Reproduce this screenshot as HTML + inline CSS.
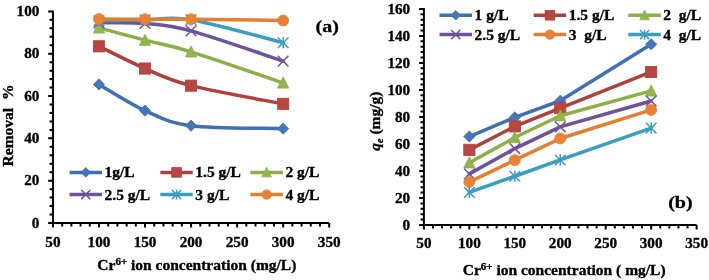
<!DOCTYPE html>
<html><head><meta charset="utf-8"><style>
html,body{margin:0;padding:0;background:#fff;}
body{width:709px;height:280px;overflow:hidden;}
svg{display:block;}
text{font-family:"Liberation Serif",serif;font-weight:bold;fill:#000;stroke:#000;stroke-width:0.35px;}
#wrap{width:709px;height:280px;}
svg{will-change:transform;}
</style></head><body><div id="wrap">
<svg width="709" height="280" viewBox="0 0 709 280">
<rect width="709" height="280" fill="#fff"/>
<path d="M52.95 10.50V223.00H329.20" fill="none" stroke="#000" stroke-width="2.0" stroke-linejoin="miter"/>
<path d="M48.15 223.00H52.95M49.55 214.54H52.95M49.55 206.07H52.95M49.55 197.61H52.95M49.55 189.14H52.95M48.15 180.68H52.95M49.55 172.22H52.95M49.55 163.75H52.95M49.55 155.29H52.95M49.55 146.82H52.95M48.15 138.36H52.95M49.55 129.90H52.95M49.55 121.43H52.95M49.55 112.97H52.95M49.55 104.50H52.95M48.15 96.04H52.95M49.55 87.58H52.95M49.55 79.11H52.95M49.55 70.65H52.95M49.55 62.18H52.95M48.15 53.72H52.95M49.55 45.26H52.95M49.55 36.79H52.95M49.55 28.33H52.95M49.55 19.86H52.95M48.15 11.40H52.95M52.95 223.00V227.50M62.16 223.00V226.40M71.37 223.00V226.40M80.58 223.00V226.40M89.78 223.00V226.40M98.99 223.00V227.50M108.20 223.00V226.40M117.41 223.00V226.40M126.62 223.00V226.40M135.82 223.00V226.40M145.03 223.00V227.50M154.24 223.00V226.40M163.45 223.00V226.40M172.66 223.00V226.40M181.87 223.00V226.40M191.07 223.00V227.50M200.28 223.00V226.40M209.49 223.00V226.40M218.70 223.00V226.40M227.91 223.00V226.40M237.12 223.00V227.50M246.32 223.00V226.40M255.53 223.00V226.40M264.74 223.00V226.40M273.95 223.00V226.40M283.16 223.00V227.50M292.37 223.00V226.40M301.57 223.00V226.40M310.78 223.00V226.40M319.99 223.00V226.40M329.20 223.00V227.50" stroke="#000" stroke-width="2.0" fill="none"/>
<text x="39.40" y="227.50" text-anchor="end" font-size="15.2" >0</text>
<text x="39.40" y="185.18" text-anchor="end" font-size="15.2" >20</text>
<text x="39.40" y="142.86" text-anchor="end" font-size="15.2" >40</text>
<text x="39.40" y="100.54" text-anchor="end" font-size="15.2" >60</text>
<text x="39.40" y="58.22" text-anchor="end" font-size="15.2" >80</text>
<text x="39.40" y="15.90" text-anchor="end" font-size="15.2" >100</text>
<text x="52.95" y="247.00" text-anchor="middle" font-size="15.2" >50</text>
<text x="98.99" y="247.00" text-anchor="middle" font-size="15.2" >100</text>
<text x="145.03" y="247.00" text-anchor="middle" font-size="15.2" >150</text>
<text x="191.07" y="247.00" text-anchor="middle" font-size="15.2" >200</text>
<text x="237.12" y="247.00" text-anchor="middle" font-size="15.2" >250</text>
<text x="283.16" y="247.00" text-anchor="middle" font-size="15.2" >300</text>
<text x="329.20" y="247.00" text-anchor="middle" font-size="15.2" >350</text>
<path d="M98.99 84.40C106.67 88.78 129.69 103.76 145.03 110.64C160.38 117.52 168.05 122.67 191.07 125.66C214.10 128.66 267.81 128.13 283.16 128.63" fill="none" stroke="#3F70B3" stroke-width="3.5" stroke-linecap="round"/>
<path d="M98.99 78.80L104.59 84.40L98.99 90.00L93.39 84.40Z" fill="#4675B8" stroke="#3F70B3" stroke-width="0.8"/>
<path d="M145.03 105.04L150.63 110.64L145.03 116.24L139.43 110.64Z" fill="#4675B8" stroke="#3F70B3" stroke-width="0.8"/>
<path d="M191.07 120.06L196.67 125.66L191.07 131.26L185.47 125.66Z" fill="#4675B8" stroke="#3F70B3" stroke-width="0.8"/>
<path d="M283.16 123.03L288.76 128.63L283.16 134.23L277.56 128.63Z" fill="#4675B8" stroke="#3F70B3" stroke-width="0.8"/>
<path d="M98.99 46.31C106.67 50.02 129.69 61.97 145.03 68.53C160.38 75.09 168.05 79.78 191.07 85.67C214.10 91.56 267.81 100.84 283.16 103.87" fill="none" stroke="#B0403D" stroke-width="3.5" stroke-linecap="round"/>
<rect x="93.39" y="40.71" width="11.20" height="11.20" fill="#B84744" stroke="#B0403D" stroke-width="0.8"/>
<rect x="139.43" y="62.93" width="11.20" height="11.20" fill="#B84744" stroke="#B0403D" stroke-width="0.8"/>
<rect x="185.47" y="80.07" width="11.20" height="11.20" fill="#B84744" stroke="#B0403D" stroke-width="0.8"/>
<rect x="277.56" y="98.27" width="11.20" height="11.20" fill="#B84744" stroke="#B0403D" stroke-width="0.8"/>
<path d="M98.99 27.90C106.67 29.95 129.69 36.19 145.03 40.18C160.38 44.16 168.05 44.69 191.07 51.82C214.10 58.94 267.81 77.74 283.16 82.92" fill="none" stroke="#8CAF48" stroke-width="3.5" stroke-linecap="round"/>
<path d="M98.99 21.90L104.59 33.10L93.39 33.10Z" fill="#92B54F" stroke="#8CAF48" stroke-width="0.8"/>
<path d="M145.03 34.18L150.63 45.38L139.43 45.38Z" fill="#92B54F" stroke="#8CAF48" stroke-width="0.8"/>
<path d="M191.07 45.82L196.67 57.02L185.47 57.02Z" fill="#92B54F" stroke="#8CAF48" stroke-width="0.8"/>
<path d="M283.16 76.92L288.76 88.12L277.56 88.12Z" fill="#92B54F" stroke="#8CAF48" stroke-width="0.8"/>
<path d="M98.99 22.83C106.67 22.93 129.69 22.12 145.03 23.46C160.38 24.80 168.05 24.59 191.07 30.87C214.10 37.14 267.81 56.08 283.16 61.13" fill="none" stroke="#6F529A" stroke-width="3.5" stroke-linecap="round"/>
<path d="M93.69 17.53L104.29 28.13M104.29 17.53L93.69 28.13" stroke="#6F529A" stroke-width="1.5" fill="none"/>
<path d="M139.73 18.16L150.33 28.76M150.33 18.16L139.73 28.76" stroke="#6F529A" stroke-width="1.5" fill="none"/>
<path d="M185.77 25.57L196.38 36.17M196.38 25.57L185.77 36.17" stroke="#6F529A" stroke-width="1.5" fill="none"/>
<path d="M277.86 55.83L288.46 66.43M288.46 55.83L277.86 66.43" stroke="#6F529A" stroke-width="1.5" fill="none"/>
<path d="M98.99 20.71C106.67 20.57 129.69 20.04 145.03 19.86C160.38 19.69 168.05 15.84 191.07 19.65C214.10 23.46 267.81 38.87 283.16 42.72" fill="none" stroke="#3A9EC0" stroke-width="3.5" stroke-linecap="round"/>
<path d="M93.69 15.41L104.29 26.01M104.29 15.41L93.69 26.01M98.99 15.11L98.99 26.31" stroke="#3A9EC0" stroke-width="1.5" fill="none"/>
<path d="M139.73 14.56L150.33 25.16M150.33 14.56L139.73 25.16M145.03 14.26L145.03 25.46" stroke="#3A9EC0" stroke-width="1.5" fill="none"/>
<path d="M185.77 14.35L196.38 24.95M196.38 14.35L185.77 24.95M191.07 14.05L191.07 25.25" stroke="#3A9EC0" stroke-width="1.5" fill="none"/>
<path d="M277.86 37.42L288.46 48.02M288.46 37.42L277.86 48.02M283.16 37.12L283.16 48.32" stroke="#3A9EC0" stroke-width="1.5" fill="none"/>
<path d="M98.99 19.02C106.67 19.05 129.69 19.19 145.03 19.23C160.38 19.26 168.05 19.02 191.07 19.23C214.10 19.44 267.81 20.29 283.16 20.50" fill="none" stroke="#E67E2E" stroke-width="3.5" stroke-linecap="round"/>
<circle cx="98.99" cy="19.02" r="5.50" fill="#E88234" stroke="#E67E2E" stroke-width="0.8"/>
<circle cx="145.03" cy="19.23" r="5.50" fill="#E88234" stroke="#E67E2E" stroke-width="0.8"/>
<circle cx="191.07" cy="19.23" r="5.50" fill="#E88234" stroke="#E67E2E" stroke-width="0.8"/>
<circle cx="283.16" cy="20.50" r="5.50" fill="#E88234" stroke="#E67E2E" stroke-width="0.8"/>
<path d="M69.50 172.40H102.00" stroke="#3F70B3" stroke-width="3.5"/>
<path d="M85.75 167.60L90.55 172.40L85.75 177.20L80.95 172.40Z" fill="#4675B8" stroke="#3F70B3" stroke-width="0.8"/>
<text x="104.50" y="177.40" text-anchor="start" font-size="15.5" >1g/L</text>
<path d="M160.30 172.40H192.80" stroke="#B0403D" stroke-width="3.5"/>
<rect x="171.75" y="167.60" width="9.60" height="9.60" fill="#B84744" stroke="#B0403D" stroke-width="0.8"/>
<text x="195.30" y="177.40" text-anchor="start" font-size="15.5" >1.5 g/L</text>
<path d="M250.40 172.40H282.90" stroke="#8CAF48" stroke-width="3.5"/>
<path d="M266.65 167.26L271.45 176.86L261.85 176.86Z" fill="#92B54F" stroke="#8CAF48" stroke-width="0.8"/>
<text x="285.40" y="177.40" text-anchor="start" font-size="15.5" >2 g/L</text>
<path d="M69.50 194.60H102.00" stroke="#6F529A" stroke-width="3.5"/>
<path d="M81.21 190.06L90.29 199.14M90.29 190.06L81.21 199.14" stroke="#6F529A" stroke-width="1.5" fill="none"/>
<text x="104.50" y="199.60" text-anchor="start" font-size="15.5" >2.5 g/L</text>
<path d="M160.30 194.60H192.80" stroke="#3A9EC0" stroke-width="3.5"/>
<path d="M172.01 190.06L181.09 199.14M181.09 190.06L172.01 199.14M176.55 189.76L176.55 199.44" stroke="#3A9EC0" stroke-width="1.5" fill="none"/>
<text x="195.30" y="199.60" text-anchor="start" font-size="15.5" >3 g/L</text>
<path d="M250.40 194.60H282.90" stroke="#E67E2E" stroke-width="3.5"/>
<circle cx="266.65" cy="194.60" r="4.71" fill="#E88234" stroke="#E67E2E" stroke-width="0.8"/>
<text x="285.40" y="199.60" text-anchor="start" font-size="15.5" >4 g/L</text>
<text x="97.30" y="269.70" text-anchor="start" font-size="15.5" >Cr<tspan font-size="11" dy="-4.5">6+</tspan><tspan dy="4.5"> ion concentration (mg/L)</tspan></text>
<text transform="translate(12.9,166.4) rotate(-90)" font-size="15.5">Removal&#160; %</text>
<text transform="translate(315.5,32.0) scale(1,0.88)" font-size="20">(a)</text>
<path d="M423.90 8.00V225.00H696.60" fill="none" stroke="#000" stroke-width="2.0"/>
<path d="M419.10 225.00H423.90M420.50 219.60H423.90M420.50 214.19H423.90M420.50 208.79H423.90M420.50 203.39H423.90M419.10 197.99H423.90M420.50 192.59H423.90M420.50 187.18H423.90M420.50 181.78H423.90M420.50 176.38H423.90M419.10 170.97H423.90M420.50 165.57H423.90M420.50 160.17H423.90M420.50 154.77H423.90M420.50 149.37H423.90M419.10 143.96H423.90M420.50 138.56H423.90M420.50 133.16H423.90M420.50 127.76H423.90M420.50 122.35H423.90M419.10 116.95H423.90M420.50 111.55H423.90M420.50 106.15H423.90M420.50 100.74H423.90M420.50 95.34H423.90M419.10 89.94H423.90M420.50 84.54H423.90M420.50 79.13H423.90M420.50 73.73H423.90M420.50 68.33H423.90M419.10 62.93H423.90M420.50 57.52H423.90M420.50 52.12H423.90M420.50 46.72H423.90M420.50 41.31H423.90M419.10 35.91H423.90M420.50 30.51H423.90M420.50 25.11H423.90M420.50 19.71H423.90M420.50 14.30H423.90M419.10 8.90H423.90M423.90 225.00V229.50M432.99 225.00V228.40M442.08 225.00V228.40M451.17 225.00V228.40M460.26 225.00V228.40M469.35 225.00V229.50M478.44 225.00V228.40M487.53 225.00V228.40M496.62 225.00V228.40M505.71 225.00V228.40M514.80 225.00V229.50M523.89 225.00V228.40M532.98 225.00V228.40M542.07 225.00V228.40M551.16 225.00V228.40M560.25 225.00V229.50M569.34 225.00V228.40M578.43 225.00V228.40M587.52 225.00V228.40M596.61 225.00V228.40M605.70 225.00V229.50M614.79 225.00V228.40M623.88 225.00V228.40M632.97 225.00V228.40M642.06 225.00V228.40M651.15 225.00V229.50M660.24 225.00V228.40M669.33 225.00V228.40M678.42 225.00V228.40M687.51 225.00V228.40M696.60 225.00V229.50" stroke="#000" stroke-width="2.0" fill="none"/>
<text x="410.20" y="229.60" text-anchor="end" font-size="15.2" >0</text>
<text x="410.20" y="202.59" text-anchor="end" font-size="15.2" >20</text>
<text x="410.20" y="175.57" text-anchor="end" font-size="15.2" >40</text>
<text x="410.20" y="148.56" text-anchor="end" font-size="15.2" >60</text>
<text x="410.20" y="121.55" text-anchor="end" font-size="15.2" >80</text>
<text x="410.20" y="94.54" text-anchor="end" font-size="15.2" >100</text>
<text x="410.20" y="67.53" text-anchor="end" font-size="15.2" >120</text>
<text x="410.20" y="40.51" text-anchor="end" font-size="15.2" >140</text>
<text x="410.20" y="13.50" text-anchor="end" font-size="15.2" >160</text>
<text x="423.90" y="248.30" text-anchor="middle" font-size="15.2" >50</text>
<text x="469.35" y="248.30" text-anchor="middle" font-size="15.2" >100</text>
<text x="514.80" y="248.30" text-anchor="middle" font-size="15.2" >150</text>
<text x="560.25" y="248.30" text-anchor="middle" font-size="15.2" >200</text>
<text x="605.70" y="248.30" text-anchor="middle" font-size="15.2" >250</text>
<text x="651.15" y="248.30" text-anchor="middle" font-size="15.2" >300</text>
<text x="696.60" y="248.30" text-anchor="middle" font-size="15.2" >350</text>
<path d="M469.35 136.53L514.80 117.42L560.25 100.74L651.15 44.29" fill="none" stroke="#3F70B3" stroke-width="3.5" stroke-linecap="round" stroke-linejoin="round"/>
<path d="M469.35 130.93L474.95 136.53L469.35 142.13L463.75 136.53Z" fill="#4675B8" stroke="#3F70B3" stroke-width="0.8"/>
<path d="M514.80 111.82L520.40 117.42L514.80 123.02L509.20 117.42Z" fill="#4675B8" stroke="#3F70B3" stroke-width="0.8"/>
<path d="M560.25 95.14L565.85 100.74L560.25 106.34L554.65 100.74Z" fill="#4675B8" stroke="#3F70B3" stroke-width="0.8"/>
<path d="M651.15 38.69L656.75 44.29L651.15 49.89L645.55 44.29Z" fill="#4675B8" stroke="#3F70B3" stroke-width="0.8"/>
<path d="M469.35 149.82L514.80 126.40L560.25 108.13L651.15 71.97" fill="none" stroke="#B0403D" stroke-width="3.5" stroke-linecap="round" stroke-linejoin="round"/>
<rect x="463.75" y="144.22" width="11.20" height="11.20" fill="#B84744" stroke="#B0403D" stroke-width="0.8"/>
<rect x="509.20" y="120.80" width="11.20" height="11.20" fill="#B84744" stroke="#B0403D" stroke-width="0.8"/>
<rect x="554.65" y="102.53" width="11.20" height="11.20" fill="#B84744" stroke="#B0403D" stroke-width="0.8"/>
<rect x="645.55" y="66.37" width="11.20" height="11.20" fill="#B84744" stroke="#B0403D" stroke-width="0.8"/>
<path d="M469.35 162.74L514.80 137.48L560.25 115.73L651.15 90.88" fill="none" stroke="#8CAF48" stroke-width="3.5" stroke-linecap="round" stroke-linejoin="round"/>
<path d="M469.35 156.74L474.95 167.94L463.75 167.94Z" fill="#92B54F" stroke="#8CAF48" stroke-width="0.8"/>
<path d="M514.80 131.48L520.40 142.68L509.20 142.68Z" fill="#92B54F" stroke="#8CAF48" stroke-width="0.8"/>
<path d="M560.25 109.73L565.85 120.93L554.65 120.93Z" fill="#92B54F" stroke="#8CAF48" stroke-width="0.8"/>
<path d="M651.15 84.88L656.75 96.08L645.55 96.08Z" fill="#92B54F" stroke="#8CAF48" stroke-width="0.8"/>
<path d="M469.35 173.89L514.80 148.58L560.25 126.89L651.15 101.01" fill="none" stroke="#6F529A" stroke-width="3.5" stroke-linecap="round" stroke-linejoin="round"/>
<path d="M464.05 168.59L474.65 179.19M474.65 168.59L464.05 179.19" stroke="#6F529A" stroke-width="1.5" fill="none"/>
<path d="M509.50 143.28L520.10 153.88M520.10 143.28L509.50 153.88" stroke="#6F529A" stroke-width="1.5" fill="none"/>
<path d="M554.95 121.59L565.55 132.19M565.55 121.59L554.95 132.19" stroke="#6F529A" stroke-width="1.5" fill="none"/>
<path d="M645.85 95.71L656.45 106.31M656.45 95.71L645.85 106.31" stroke="#6F529A" stroke-width="1.5" fill="none"/>
<path d="M469.35 181.96L514.80 160.17L560.25 138.47L651.15 109.93" fill="none" stroke="#E67E2E" stroke-width="3.5" stroke-linecap="round" stroke-linejoin="round"/>
<circle cx="469.35" cy="181.96" r="5.50" fill="#E88234" stroke="#E67E2E" stroke-width="0.8"/>
<circle cx="514.80" cy="160.17" r="5.50" fill="#E88234" stroke="#E67E2E" stroke-width="0.8"/>
<circle cx="560.25" cy="138.47" r="5.50" fill="#E88234" stroke="#E67E2E" stroke-width="0.8"/>
<circle cx="651.15" cy="109.93" r="5.50" fill="#E88234" stroke="#E67E2E" stroke-width="0.8"/>
<path d="M469.35 192.45L514.80 176.23L560.25 159.97L651.15 128.06" fill="none" stroke="#3A9EC0" stroke-width="3.5" stroke-linecap="round" stroke-linejoin="round"/>
<path d="M464.05 187.15L474.65 197.75M474.65 187.15L464.05 197.75M469.35 186.85L469.35 198.05" stroke="#3A9EC0" stroke-width="1.5" fill="none"/>
<path d="M509.50 170.93L520.10 181.53M520.10 170.93L509.50 181.53M514.80 170.63L514.80 181.83" stroke="#3A9EC0" stroke-width="1.5" fill="none"/>
<path d="M554.95 154.67L565.55 165.27M565.55 154.67L554.95 165.27M560.25 154.37L560.25 165.57" stroke="#3A9EC0" stroke-width="1.5" fill="none"/>
<path d="M645.85 122.76L656.45 133.36M656.45 122.76L645.85 133.36M651.15 122.46L651.15 133.66" stroke="#3A9EC0" stroke-width="1.5" fill="none"/>
<path d="M439.50 15.30H472.00" stroke="#3F70B3" stroke-width="3.5"/>
<path d="M455.75 10.50L460.55 15.30L455.75 20.10L450.95 15.30Z" fill="#4675B8" stroke="#3F70B3" stroke-width="0.8"/>
<text x="474.50" y="20.30" text-anchor="start" font-size="15.5" >1 g/L</text>
<path d="M533.70 15.30H566.20" stroke="#B0403D" stroke-width="3.5"/>
<rect x="545.15" y="10.50" width="9.60" height="9.60" fill="#B84744" stroke="#B0403D" stroke-width="0.8"/>
<text x="568.70" y="20.30" text-anchor="start" font-size="15.5" >1.5 g/L</text>
<path d="M628.30 15.30H660.80" stroke="#8CAF48" stroke-width="3.5"/>
<path d="M644.55 10.16L649.35 19.76L639.75 19.76Z" fill="#92B54F" stroke="#8CAF48" stroke-width="0.8"/>
<text x="663.30" y="20.30" text-anchor="start" font-size="15.5" >2&#160; g/L</text>
<path d="M439.50 34.60H472.00" stroke="#6F529A" stroke-width="3.5"/>
<path d="M451.21 30.06L460.29 39.14M460.29 30.06L451.21 39.14" stroke="#6F529A" stroke-width="1.5" fill="none"/>
<text x="474.50" y="39.60" text-anchor="start" font-size="15.5" >2.5 g/L</text>
<path d="M533.70 34.60H566.20" stroke="#E67E2E" stroke-width="3.5"/>
<circle cx="549.95" cy="34.60" r="4.71" fill="#E88234" stroke="#E67E2E" stroke-width="0.8"/>
<text x="568.70" y="39.60" text-anchor="start" font-size="15.5" >3&#160; g/L</text>
<path d="M628.30 34.60H660.80" stroke="#3A9EC0" stroke-width="3.5"/>
<path d="M640.01 30.06L649.09 39.14M649.09 30.06L640.01 39.14M644.55 29.76L644.55 39.44" stroke="#3A9EC0" stroke-width="1.5" fill="none"/>
<text x="663.30" y="39.60" text-anchor="start" font-size="15.5" >4&#160; g/L</text>
<text x="462.70" y="274.80" text-anchor="start" font-size="15.5" >Cr<tspan font-size="11" dy="-4.5">6+</tspan><tspan dy="4.5"> ion concentration ( mg/L)</tspan></text>
<text transform="translate(379.6,150.7) rotate(-90)" font-size="15.5"><tspan font-style="italic">q</tspan><tspan font-style="italic" font-size="10" dy="3">e</tspan><tspan dy="-3"> (mg/g)</tspan></text>
<text transform="translate(668.2,208.2) scale(1,0.88)" font-size="20">(b)</text>
</svg></div></body></html>
